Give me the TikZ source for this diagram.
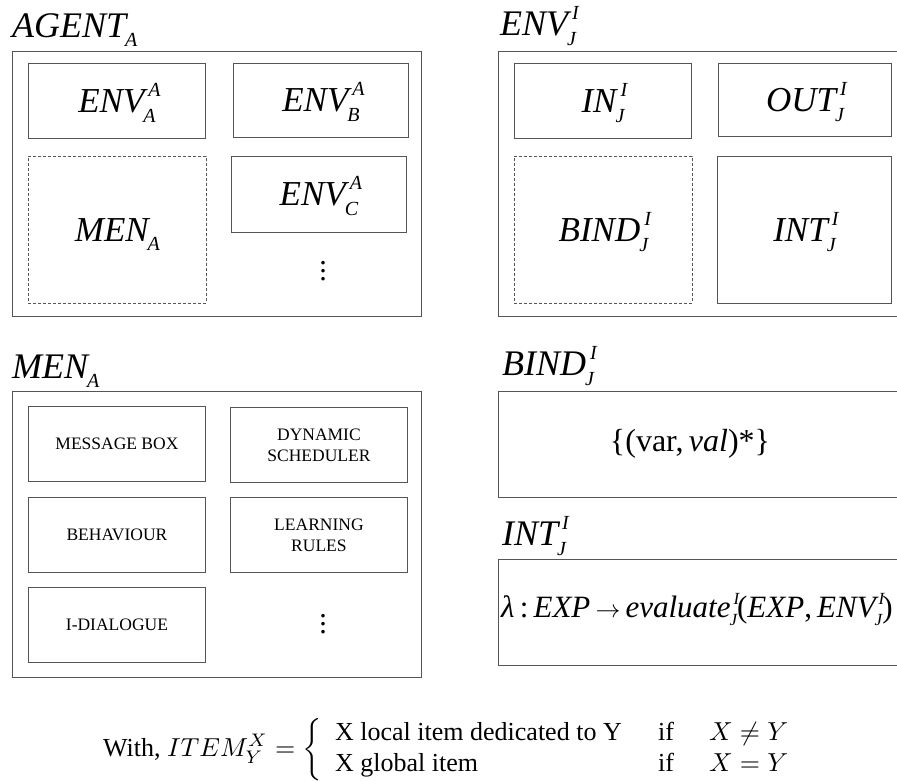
\documentclass[tikz,border=0pt]{standalone}
\usepackage{graphicx}
\usepackage{fontspec}
\setmainfont{Liberation Serif}
\newcommand\ssz{\fontsize{20}{20}\selectfont}
\newcommand\SupSub[3]{{\itshape #1}\hbox{\smash{\rlap{\kern4pt\raisebox{16pt}{\ssz\itshape #2}}\kern-1pt\raisebox{-10pt}{\ssz\itshape #3}}}}
\newcommand\SubOnly[2]{{\itshape #1}\hbox{\smash{\kern-1pt\raisebox{-9pt}{\ssz\itshape #2}}}}
\newcommand\sssz{\fontsize{17}{17}\selectfont}
\newcommand\SmallSupSub[3]{{\itshape #1}\hbox{\smash{\rlap{\kern3pt\raisebox{13pt}{\sssz\itshape #2}}\kern-1pt\raisebox{-8pt}{\sssz\itshape #3}}}}
\newcommand\MyDots{\vbox{\baselineskip=8pt\lineskiplimit=-20pt\hbox{.}\hbox{.}\hbox{.}}}
\definecolor{linegray}{HTML}{555555}
\begin{document}
\begin{tikzpicture}[x=1pt,y=-1pt,
  obox/.style={draw=linegray,line width=1.2pt,anchor=north west,inner sep=0pt},
  ibox/.style={draw=linegray,line width=0.9pt,anchor=north west,inner sep=0pt,font=\fontsize{35}{40}\selectfont},
  dbox/.style={ibox,dash pattern=on 3pt off 2pt,line width=0.8pt},
  tbox/.style={draw=linegray,line width=0.9pt,anchor=north west,inner sep=0pt,align=center,font=\fontsize{17.5}{21}\selectfont},
  title/.style={anchor=base west,inner sep=0pt,font=\fontsize{36}{40}\selectfont},
  dotsnode/.style={inner sep=0pt,font=\fontsize{30}{30}\selectfont}]
\useasboundingbox (0,0) rectangle (897,780);
\fill[white] (0,0) rectangle (897,780);

% ---------- AGENT_A ----------
\node[title] (agentlab) at (12,37) {\SubOnly{AGENT}{A}};
\node[obox,minimum width=409,minimum height=265] (agent) at (12,51) {};
\node[ibox,minimum width=177,minimum height=75] (envaa) at (28,63) {\SupSub{ENV}{A}{A}};
\node[ibox,minimum width=175,minimum height=74] (envba) at (233,63) {\SupSub{ENV}{A}{B}};
\node[dbox,minimum width=178,minimum height=147] (mena) at (28,156) {\SubOnly{MEN}{A}};
\node[ibox,minimum width=175,minimum height=76] (envca) at (231,156) {\SupSub{ENV}{A}{C}};
\node[dotsnode] (dotsa) at (323,271) {\MyDots};

% ---------- ENV_J^I ----------
\node[title] (envlab) at (500,35) {\SupSub{ENV}{I}{J}};
\node[obox,minimum width=410,minimum height=265] (env) at (498,51) {};
\node[ibox,minimum width=177,minimum height=75] (inj) at (514,63) {\SupSub{IN}{I}{J}};
\node[ibox,minimum width=173,minimum height=73] (outj) at (718,63) {\SupSub{OUT}{I}{J}};
\node[dbox,minimum width=178,minimum height=147] (bindj) at (514,156) {\SupSub{BIND}{I}{J}};
\node[ibox,minimum width=174,minimum height=147] (intj) at (717,156) {\SupSub{INT}{I}{J}};

% ---------- MEN_A ----------
\node[title] (menlab) at (12,378) {\SubOnly{MEN}{A}};
\node[obox,minimum width=409,minimum height=286] (men) at (12,391) {};
\node[tbox,minimum width=177,minimum height=75] (msg) at (28,406) {MESSAGE BOX};
\node[tbox,minimum width=177,minimum height=75] (dyn) at (230,407) {DYNAMIC\\SCHEDULER};
\node[tbox,minimum width=177,minimum height=75] (beh) at (28,497) {BEHAVIOUR};
\node[tbox,minimum width=177,minimum height=75] (learn) at (230,497) {LEARNING\\RULES};
\node[tbox,minimum width=177,minimum height=75] (idlg) at (28,587) {I-DIALOGUE};
\node[dotsnode] (dotsm) at (323,624) {\MyDots};

% ---------- BIND_J^I ----------
\node[title] (bindlab) at (502,375) {\SupSub{BIND}{I}{J}};
\node[obox,minimum width=410,minimum height=106] (bindbox) at (498,391) {};
\node[inner sep=0pt,font=\fontsize{32}{36}\selectfont] (bindtxt) at (690,444) {\{(var,\,\textit{val})*\}};

% ---------- INT_J^I ----------
\node[title] (intlab) at (502,545) {\SupSub{INT}{I}{J}};
\node[obox,minimum width=410,minimum height=106] (intbox) at (498,559) {};
\node[anchor=base west,inner sep=0pt,font=\fontsize{31}{36}\selectfont] (lam) at (501,617)
  {\textit{λ}\,:\,\textit{EXP}\,$\rightarrow$\,\SmallSupSub{evaluate}{I}{J}(\textit{EXP},\,\SmallSupSub{ENV}{I}{J})};

% ---------- legend ----------
\node[anchor=base west,inner sep=0pt] (legend) at (103,756)
  {\scalebox{2.6}{\fontsize{10}{12}\selectfont With, $ITEM_Y^X = \left\{\begin{array}{l@{\hspace{14pt}}l@{\hspace{13.5pt}}l}
   \mbox{X local item dedicated to Y} & \mbox{if} & X \neq Y\\
   \mbox{X global item} & \mbox{if} & X = Y
   \end{array}\right.$}};
\end{tikzpicture}
\end{document}
